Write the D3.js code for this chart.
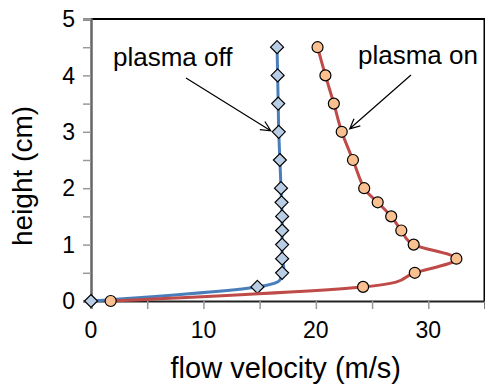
<!DOCTYPE html>
<html>
<head>
<meta charset="utf-8">
<script src="https://cdn.jsdelivr.net/npm/d3@7"></script>
<style>
  body { margin: 0; background: #fff; }
  text { font-family: "Liberation Sans", Arial, Helvetica, sans-serif; fill: #000; }
</style>
</head>
<body>
<svg id="chart"></svg>
<script>
// Heights where the velocity was measured (cm):
var heights = [0, 0.25, 0.5, 0.75, 1, 1.25, 1.5, 1.75, 2, 2.5, 3, 3.5, 4, 4.5];
// Flow velocity (m/s) at each height:
var plasmaOff = [0, 14.8, 17.0, 17.0, 17.0, 17.0, 17.0, 16.95, 16.9, 16.8, 16.7, 16.65, 16.6, 16.55];
var plasmaOn  = [1.75, 24.2, 28.8, 32.5, 28.7, 27.6, 26.7, 25.5, 24.3, 23.3, 22.3, 21.6, 20.85, 20.15];

// Axis ticks:
var xTicks = [0, 5, 10, 15, 20, 25, 30, 35],
    xLabels = [0, 10, 20, 30];
var yTicks = [0, 0.5, 1, 1.5, 2, 2.5, 3, 3.5, 4, 4.5, 5],
    yLabels = [0, 1, 2, 3, 4, 5];

// Annotation labels and the point each arrow points at:
var notes = [
  {text: "plasma off", series: plasmaOff, at: 10},
  {text: "plasma on",  series: plasmaOn,  at: 10}
];

// Set plot canvas size:
const margin = {top: 19, right: 0.5, bottom: 87, left: 91},
    width = 485 - margin.left - margin.right,
    height = 388 - margin.top - margin.bottom;

var xScale = d3.scaleLinear().domain([0, 35]).range([0, width]),
    yScale = d3.scaleLinear().domain([0, 5]).range([height, 0]);

var svg = d3.select("#chart")
    .attr("width", 485)
    .attr("height", 388)
    .append("g")
    .attr("transform", "translate(" + margin.left + "," + margin.top + ")");

// Frame (top and right borders):
svg.append("path")
    .attr("d", "M0,0H" + width + "V" + height)
    .attr("fill", "none")
    .attr("stroke", "#000")
    .attr("stroke-width", 2);

// Y axis:
var yAxis = svg.append("g")
    .call(d3.axisLeft(yScale).tickValues(yTicks).tickSize(8).tickFormat(""));
yAxis.select(".domain").attr("stroke", "#666").attr("stroke-width", 2.5);
yAxis.selectAll(".tick line").attr("stroke", "#999").attr("stroke-width", 1.5);
svg.append("g").selectAll("text")
    .data(yLabels)
    .enter().append("text")
    .attr("x", -16)
    .attr("y", function(d) { return yScale(d); })
    .attr("dy", "0.36em")
    .attr("text-anchor", "end")
    .style("font-size", "23px")
    .text(function(d) { return d; });

// X axis:
var xAxis = svg.append("g")
    .attr("transform", "translate(0," + height + ")")
    .call(d3.axisBottom(xScale).tickValues(xTicks).tickSize(8).tickFormat(""));
xAxis.select(".domain").attr("stroke", "#222").attr("stroke-width", 2);
xAxis.selectAll(".tick line").attr("stroke", "#999").attr("stroke-width", 1.5);
svg.append("g").selectAll("text")
    .data(xLabels)
    .enter().append("text")
    .attr("x", function(d) { return xScale(d); })
    .attr("y", height + 37)
    .attr("text-anchor", "middle")
    .style("font-size", "23px")
    .text(function(d) { return d; });

// Axis titles:
svg.append("text")
    .attr("x", width / 2 - 2)
    .attr("y", height + 77)
    .attr("text-anchor", "middle")
    .style("font-size", "29px")
    .text("flow velocity (m/s)");
svg.append("text")
    .attr("transform", "translate(" + (32 - margin.left) + "," + (176 - margin.top) + ") rotate(-90)")
    .attr("text-anchor", "middle")
    .style("font-size", "28px")
    .text("height (cm)");

// Smoothed lines like the spreadsheet:
var line = d3.line()
    .x(function(d) { return xScale(d[0]); })
    .y(function(d) { return yScale(d[1]); })
    .curve(d3.curveCatmullRom.alpha(0));

function pairs(series) {
  return series.map(function(v, i) { return [v, heights[i]]; });
}

// plasma off: blue line with diamonds
svg.append("path")
    .datum(pairs(plasmaOff))
    .attr("d", line)
    .attr("fill", "none")
    .attr("stroke", "#4a7ebb")
    .attr("stroke-width", 3);
svg.append("g").selectAll("path")
    .data(pairs(plasmaOff))
    .enter().append("path")
    .attr("transform", function(d) { return "translate(" + xScale(d[0]) + "," + yScale(d[1]) + ")"; })
    .attr("d", "M0,-6.5L6.5,0L0,6.5L-6.5,0Z")
    .attr("fill", "#b9cde5")
    .attr("stroke", "#000")
    .attr("stroke-width", 1.2);

// plasma on: red line with circles
svg.append("path")
    .datum(pairs(plasmaOn))
    .attr("d", line)
    .attr("fill", "none")
    .attr("stroke", "#be4b48")
    .attr("stroke-width", 3);
svg.append("g").selectAll("circle")
    .data(pairs(plasmaOn))
    .enter().append("circle")
    .attr("cx", function(d) { return xScale(d[0]); })
    .attr("cy", function(d) { return yScale(d[1]); })
    .attr("r", 5.5)
    .attr("fill", "#fac090")
    .attr("stroke", "#000")
    .attr("stroke-width", 1.2);

// Annotations with open arrow heads:
var noteText = [{x: 22, y: 47}, {x: 267, y: 45}],
    noteTail = [{x: 95, y: 59}, {x: 320, y: 56}],
    noteTip = [{dx: -8, dy: -1}, {dx: 8, dy: -3}];

notes.forEach(function(n, i) {
  svg.append("text")
      .attr("x", noteText[i].x)
      .attr("y", noteText[i].y)
      .style("font-size", "26px")
      .text(n.text);

  var tx = xScale(n.series[n.at]) + noteTip[i].dx,
      ty = yScale(heights[n.at]) + noteTip[i].dy,
      sx = noteTail[i].x, sy = noteTail[i].y;
  var ang = Math.atan2(ty - sy, tx - sx), len = 11, spread = 0.45;
  svg.append("path")
      .attr("d", "M" + sx + "," + sy + "L" + tx + "," + ty +
          "M" + (tx - len * Math.cos(ang - spread)) + "," + (ty - len * Math.sin(ang - spread)) +
          "L" + tx + "," + ty +
          "L" + (tx - len * Math.cos(ang + spread)) + "," + (ty - len * Math.sin(ang + spread)))
      .attr("fill", "none")
      .attr("stroke", "#000")
      .attr("stroke-width", 1.2);
});
</script>
</body>
</html>
